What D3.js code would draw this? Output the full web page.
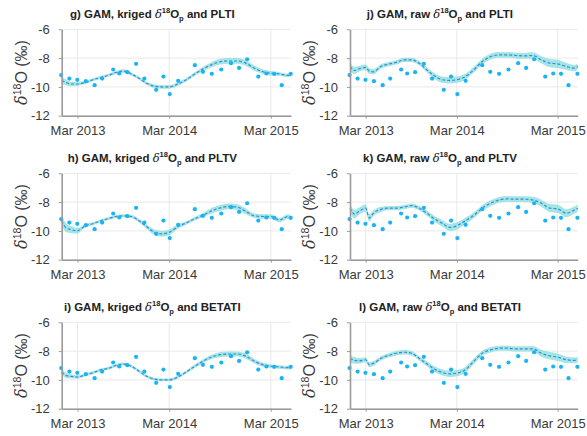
<!DOCTYPE html>
<html>
<head>
<meta charset="utf-8">
<script src="https://cdn.jsdelivr.net/npm/d3@7"></script>
<style>
  body { margin: 0; background: #fff; }
  svg { display: block; font-family: "Liberation Sans", Arial, sans-serif; }
</style>
</head>
<body>
<script>
// size of the whole figure
const w = 587;
const h = 436;

// observed d18O of precipitation (same dots in every panel)
const obsDates = ["2012-12-25","2013-01-27","2013-02-28","2013-04-03","2013-05-08","2013-06-07","2013-07-21",
  "2013-08-14","2013-09-15","2013-10-20","2013-11-22","2014-01-08","2014-02-06","2014-03-03","2014-04-02",
  "2014-06-01","2014-06-30","2014-08-01","2014-09-04","2014-10-09","2014-11-07","2014-12-06","2015-01-15",
  "2015-02-13","2015-03-13","2015-04-09","2015-05-11"];
const obsValues = [-9.18,-9.42,-9.51,-9.6,-9.88,-9.42,-8.79,-9.07,-8.98,-8.4,-9.42,-10.2,-9.28,-10.5,-9.58,
  -8.49,-8.95,-9.09,-8.79,-8.35,-8.68,-8.08,-9.28,-9.07,-9.09,-9.88,-9.09];

// dates at which the GAM fits were read
const curveDates = ["2012-12-27","2013-01-15","2013-02-01","2013-03-01","2013-03-15","2013-04-01","2013-05-01",
  "2013-06-01","2013-07-01","2013-08-01","2013-09-01","2013-10-01","2013-11-01","2013-12-01","2014-01-01",
  "2014-02-01","2014-03-01","2014-04-01","2014-05-01","2014-06-01","2014-07-01","2014-08-01","2014-09-01",
  "2014-10-01","2014-11-01","2014-12-01","2015-01-01","2015-02-01","2015-03-01","2015-04-01","2015-05-01","2015-05-12"];

// fitted means and half widths of the bands
const fitG = [-9.55,-9.7,-9.8,-9.8,-9.75,-9.7,-9.5,-9.35,-9.2,-9.0,-8.9,-9.1,-9.4,-9.75,-9.95,-10.0,-10.0,-9.8,-9.5,-9.1,-8.75,-8.45,-8.25,-8.2,-8.2,-8.35,-8.7,-8.95,-9.05,-9.1,-9.2,-9.15];
const bandG = [0.25,0.2,0.15,0.12,0.12,0.1,0.1,0.1,0.1,0.1,0.12,0.12,0.1,0.1,0.12,0.12,0.12,0.12,0.12,0.12,0.15,0.18,0.2,0.2,0.2,0.2,0.18,0.15,0.15,0.12,0.12,0.12];
const fitH = [-9.3,-9.8,-9.9,-10.0,-9.85,-9.65,-9.5,-9.3,-9.15,-9.0,-8.95,-9.0,-9.3,-9.7,-10.1,-10.2,-10.1,-9.7,-9.45,-9.15,-8.9,-8.6,-8.4,-8.3,-8.35,-8.65,-8.95,-9.0,-9.0,-9.25,-9.0,-9.1];
const bandH = [0.35,0.3,0.25,0.2,0.15,0.12,0.1,0.1,0.1,0.1,0.1,0.1,0.12,0.15,0.2,0.2,0.2,0.15,0.12,0.12,0.15,0.2,0.2,0.2,0.2,0.2,0.15,0.15,0.15,0.15,0.15,0.15];
const fitI = [-9.45,-9.7,-9.75,-9.8,-9.75,-9.65,-9.5,-9.3,-9.2,-9.0,-8.9,-9.05,-9.4,-9.75,-9.95,-10.0,-10.0,-9.8,-9.45,-9.05,-8.7,-8.4,-8.25,-8.2,-8.2,-8.35,-8.7,-8.95,-9.05,-9.1,-9.15,-9.15];
const bandI = [0.2,0.18,0.14,0.12,0.1,0.1,0.1,0.1,0.1,0.1,0.1,0.1,0.1,0.1,0.1,0.1,0.1,0.1,0.1,0.12,0.14,0.15,0.18,0.18,0.18,0.18,0.16,0.14,0.12,0.12,0.12,0.12];
const fitJ = [-8.58,-8.86,-8.75,-8.65,-8.9,-8.95,-8.58,-8.42,-8.3,-8.12,-8.12,-8.35,-8.82,-9.23,-9.5,-9.55,-9.5,-9.28,-8.82,-8.24,-7.9,-7.78,-7.78,-7.82,-7.85,-7.82,-8.12,-8.35,-8.4,-8.58,-8.7,-8.58];
const bandJ = [0.3,0.25,0.2,0.2,0.2,0.18,0.15,0.15,0.15,0.15,0.15,0.15,0.18,0.2,0.22,0.22,0.22,0.2,0.2,0.2,0.2,0.2,0.2,0.2,0.2,0.22,0.25,0.28,0.28,0.25,0.22,0.22];
const fitK = [-8.42,-8.84,-8.65,-8.42,-9.1,-8.77,-8.5,-8.42,-8.42,-8.35,-8.24,-8.42,-8.77,-9.16,-9.46,-9.76,-9.65,-9.3,-8.93,-8.42,-8.08,-7.85,-7.78,-7.8,-7.8,-7.85,-8.08,-8.42,-8.47,-8.77,-8.54,-8.42];
const bandK = [0.3,0.3,0.25,0.25,0.25,0.2,0.18,0.15,0.15,0.15,0.15,0.15,0.18,0.2,0.22,0.25,0.25,0.22,0.2,0.2,0.2,0.2,0.2,0.2,0.2,0.22,0.25,0.28,0.28,0.28,0.25,0.25];
const fitL = [-8.5,-8.65,-8.68,-8.6,-8.95,-8.85,-8.5,-8.3,-8.15,-8.08,-8.15,-8.5,-8.88,-9.25,-9.48,-9.58,-9.53,-9.3,-8.72,-8.15,-7.92,-7.8,-7.8,-7.85,-7.85,-7.85,-8.15,-8.33,-8.42,-8.6,-8.65,-8.6];
const bandL = [0.25,0.22,0.2,0.18,0.18,0.16,0.15,0.15,0.15,0.15,0.15,0.15,0.18,0.2,0.22,0.22,0.22,0.2,0.2,0.18,0.18,0.18,0.18,0.18,0.18,0.2,0.24,0.26,0.26,0.22,0.2,0.2];

// panel titles
const panelLetters = ["g", "j", "h", "k", "i", "l"];
const panelKinds = ["kriged", "raw", "kriged", "raw", "kriged", "raw"];
const panelModels = ["PLTI", "PLTI", "PLTV", "PLTV", "BETATI", "BETATI"];
const panelFits = [fitG, fitJ, fitH, fitK, fitI, fitL];
const panelBands = [bandG, bandJ, bandH, bandK, bandI, bandL];

// axis ticks
const yTicks = [-12, -10, -8, -6];
const xTickDates = ["2013-03-01", "2014-03-01", "2015-03-01"];
const xDomainDates = ["2012-12-27", "2013-03-01", "2014-03-01", "2015-03-01", "2015-05-12"];

// layout
const colX = [61.7, 350];
const colW = [229.3, 227.7];
const rowY = [29.3, 173.3, 322.3];
const plotH = 86.4;
const xFrac = [0, 0.069, 0.469, 0.912, 1];

const parse = d3.timeParse("%Y-%m-%d");
const textCol = "#3a3a3a";
const axisCol = "#9a9a9a";

const svg = d3.select("body").append("svg")
    .attr("width", w)
    .attr("height", h);

panelLetters.forEach((letter, i) => {
  const col = i % 2, row = Math.floor(i / 2);
  const x0 = colX[col], pw = colW[col], y0 = rowY[row];

  const x = d3.scaleTime()
      .domain(xDomainDates.map(parse))
      .range(xFrac.map(f => f * pw));
  const y = d3.scaleLinear().domain([-12, -6]).range([plotH, 0]);

  const g = svg.append("g").attr("transform", `translate(${x0},${y0})`);

  // grid
  g.selectAll(".hgrid").data(yTicks).enter().append("line")
      .attr("x1", 0).attr("x2", pw)
      .attr("y1", d => y(d)).attr("y2", d => y(d))
      .attr("stroke", "#e9e9e9").attr("stroke-width", 1);
  g.selectAll(".vgrid").data(xTickDates.map(parse)).enter().append("line")
      .attr("x1", d => x(d)).attr("x2", d => x(d))
      .attr("y1", 0).attr("y2", plotH)
      .attr("stroke", "#e9e9e9").attr("stroke-width", 1);

  // band and fitted line
  const fit = panelFits[i], band = panelBands[i];
  const rows = curveDates.map((d, k) => ({ date: parse(d), v: fit[k], hw: band[k] }));

  g.append("path")
      .datum(rows)
      .attr("fill", "#86dcdc")
      .attr("fill-opacity", 0.75)
      .attr("d", d3.area().curve(d3.curveMonotoneX)
        .x(d => x(d.date)).y0(d => y(d.v - d.hw)).y1(d => y(d.v + d.hw)));

  g.append("path")
      .datum(rows)
      .attr("fill", "none")
      .attr("stroke", "#3a8bd6")
      .attr("stroke-width", 1.2)
      .attr("stroke-dasharray", "3,2")
      .attr("d", d3.line().curve(d3.curveMonotoneX).x(d => x(d.date)).y(d => y(d.v)));

  // observations
  g.selectAll(".obs").data(obsDates).enter().append("circle")
      .attr("cx", d => x(parse(d)))
      .attr("cy", (d, k) => y(obsValues[k]))
      .attr("r", 2.1)
      .attr("fill", "#19b4f5");

  // axes
  const xAxis = g.append("g").attr("transform", `translate(0,${plotH})`)
      .call(d3.axisBottom(x).tickValues(xTickDates.map(parse))
        .tickFormat(d3.timeFormat("%b %Y")).tickSizeInner(3).tickSizeOuter(0).tickPadding(7));
  const yAxis = g.append("g")
      .call(d3.axisLeft(y).tickValues(yTicks).tickFormat(d => String(d))
        .tickSizeInner(3).tickSizeOuter(0).tickPadding(9));

  [xAxis, yAxis].forEach(a => {
    a.select(".domain").attr("stroke", axisCol).attr("stroke-width", 1.6);
    a.selectAll(".tick line").attr("stroke", axisCol);
    a.selectAll(".tick text").attr("fill", textCol).attr("font-size", 13)
        .attr("font-family", "'Liberation Sans', Arial, sans-serif");
  });

  // y label
  const yl = g.append("text")
      .attr("transform", `translate(-35,${plotH / 2}) rotate(-90)`)
      .attr("text-anchor", "middle")
      .attr("fill", textCol)
      .attr("font-size", 16);
  yl.append("tspan").attr("font-style", "italic").attr("font-family", "'DejaVu Serif', serif").text("δ");
  yl.append("tspan").attr("font-size", 10.5).attr("dy", -6).text("18");
  yl.append("tspan").attr("dy", 6).text("O (‰)");

  // title
  const t = g.append("text")
      .attr("x", pw * 0.395)
      .attr("y", -11)
      .attr("text-anchor", "middle")
      .attr("font-weight", "bold")
      .attr("font-size", 11.5)
      .attr("fill", "#222");
  t.append("tspan").text(`${letter}) GAM, ${panelKinds[i]} `);
  t.append("tspan").attr("font-style", "italic").attr("font-weight", "normal")
      .attr("font-family", "'DejaVu Serif', serif").text("δ");
  t.append("tspan").attr("font-size", 7.5).attr("dy", -5).text("18");
  t.append("tspan").attr("dy", 5).text("O");
  t.append("tspan").attr("font-size", 7.5).attr("dy", 3).text("p");
  t.append("tspan").attr("dy", -3).text(` and ${panelModels[i]}`);
});
</script>
</body>
</html>
